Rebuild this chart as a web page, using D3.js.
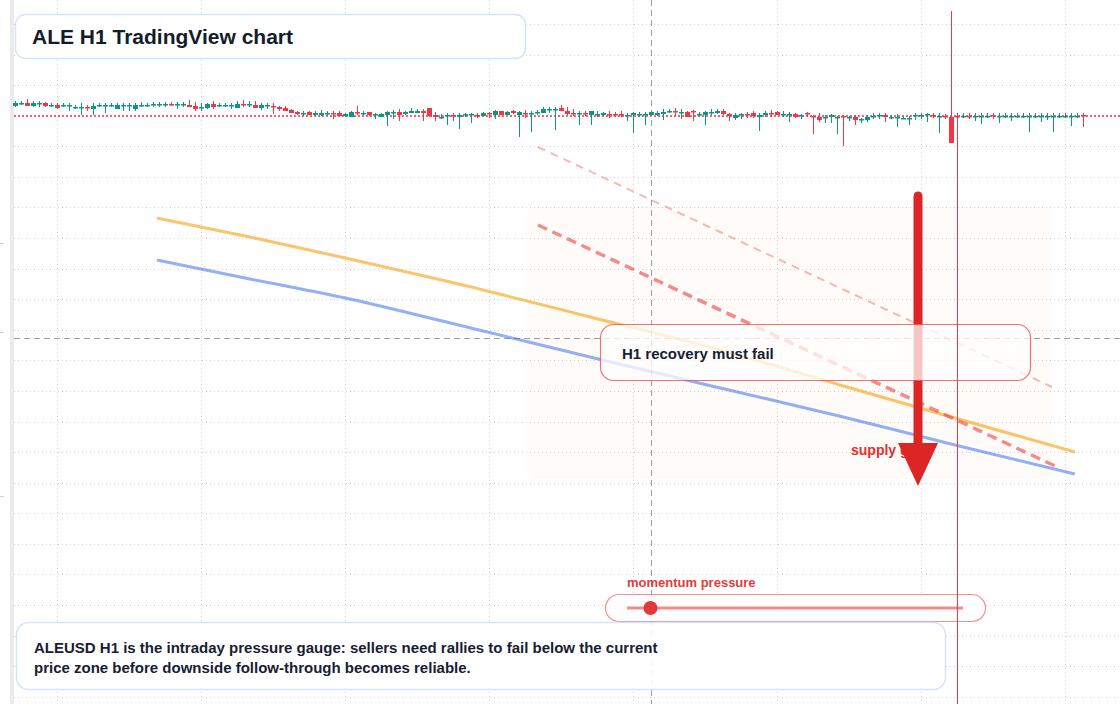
<!DOCTYPE html>
<meta charset="utf-8">
<style>
body { margin: 0; background: #fff; }
svg { display: block; font-family: "Liberation Sans", Arial, sans-serif; }
</style>
<body>
<script src="https://cdnjs.cloudflare.com/ajax/libs/d3/7.8.5/d3.min.js"></script>
<script>
var w = 1120, h = 704;

// ALEUSD hourly candles, [open, high, low, close]
var candles = [
  [1.194,1.199,1.193,1.197],[1.196,1.199,1.195,1.197],[1.197,1.201,1.194,1.194],[1.194,1.199,1.193,1.197],
  [1.196,1.199,1.193,1.197],[1.197,1.198,1.193,1.194],[1.194,1.197,1.193,1.195],[1.195,1.197,1.191,1.192],
  [1.194,1.197,1.193,1.195],[1.194,1.197,1.189,1.195],[1.192,1.195,1.191,1.193],[1.192,1.197,1.185,1.193],
  [1.193,1.195,1.189,1.192],[1.191,1.197,1.185,1.194],[1.194,1.197,1.193,1.195],[1.194,1.197,1.187,1.195],
  [1.194,1.197,1.193,1.195],[1.191,1.197,1.191,1.195],[1.194,1.197,1.189,1.195],[1.194,1.197,1.189,1.195],
  [1.191,1.197,1.189,1.195],[1.194,1.198,1.193,1.195],[1.194,1.197,1.193,1.195],[1.195,1.198,1.193,1.196],
  [1.195,1.198,1.193,1.196],[1.195,1.198,1.193,1.196],[1.196,1.198,1.194,1.195],[1.195,1.198,1.191,1.196],
  [1.195,1.198,1.193,1.196],[1.195,1.200,1.193,1.193],[1.194,1.198,1.189,1.191],[1.192,1.197,1.189,1.193],
  [1.192,1.197,1.191,1.196],[1.196,1.199,1.191,1.193],[1.194,1.197,1.193,1.195],[1.194,1.197,1.193,1.195],
  [1.194,1.197,1.191,1.195],[1.192,1.199,1.192,1.196],[1.196,1.200,1.193,1.195],[1.195,1.199,1.193,1.196],
  [1.195,1.199,1.192,1.192],[1.192,1.197,1.190,1.195],[1.194,1.197,1.191,1.195],[1.194,1.197,1.186,1.193],
  [1.193,1.194,1.189,1.191],[1.192,1.194,1.189,1.189],[1.190,1.191,1.187,1.187],[1.188,1.189,1.185,1.186],
  [1.186,1.189,1.184,1.187],[1.188,1.189,1.185,1.185],[1.185,1.189,1.184,1.187],[1.185,1.190,1.184,1.187],
  [1.186,1.189,1.184,1.187],[1.187,1.189,1.181,1.186],[1.187,1.189,1.184,1.184],[1.184,1.187,1.183,1.186],
  [1.183,1.189,1.183,1.188],[1.188,1.194,1.185,1.187],[1.186,1.189,1.185,1.187],[1.188,1.188,1.184,1.185],
  [1.185,1.187,1.181,1.186],[1.183,1.187,1.183,1.186],[1.185,1.189,1.174,1.188],[1.187,1.190,1.181,1.188],
  [1.188,1.191,1.179,1.185],[1.186,1.189,1.185,1.188],[1.187,1.192,1.187,1.189],[1.187,1.191,1.187,1.189],
  [1.189,1.191,1.179,1.187],[1.192,1.192,1.183,1.184],[1.185,1.188,1.179,1.183],[1.182,1.186,1.181,1.183],
  [1.184,1.187,1.175,1.185],[1.185,1.187,1.179,1.184],[1.183,1.187,1.171,1.185],[1.185,1.187,1.183,1.186],
  [1.185,1.187,1.177,1.186],[1.185,1.187,1.182,1.184],[1.184,1.188,1.184,1.187],[1.187,1.188,1.182,1.186],
  [1.185,1.190,1.181,1.189],[1.189,1.189,1.185,1.185],[1.185,1.189,1.185,1.188],[1.189,1.190,1.186,1.187],
  [1.185,1.189,1.163,1.188],[1.187,1.190,1.182,1.186],[1.186,1.189,1.168,1.187],[1.187,1.190,1.185,1.188],
  [1.187,1.193,1.187,1.191],[1.190,1.193,1.187,1.191],[1.190,1.193,1.170,1.191],[1.192,1.195,1.189,1.189],
  [1.189,1.193,1.185,1.186],[1.187,1.191,1.184,1.186],[1.186,1.189,1.175,1.187],[1.187,1.189,1.184,1.186],
  [1.185,1.189,1.175,1.189],[1.185,1.189,1.183,1.186],[1.185,1.188,1.184,1.187],[1.186,1.189,1.182,1.185],
  [1.186,1.188,1.183,1.185],[1.186,1.189,1.183,1.185],[1.184,1.187,1.179,1.185],[1.185,1.188,1.167,1.187],
  [1.185,1.188,1.183,1.186],[1.185,1.188,1.175,1.186],[1.185,1.189,1.184,1.188],[1.185,1.189,1.184,1.187],
  [1.186,1.191,1.180,1.188],[1.188,1.191,1.187,1.189],[1.189,1.192,1.184,1.188],[1.187,1.191,1.181,1.188],
  [1.188,1.189,1.183,1.183],[1.189,1.190,1.179,1.188],[1.185,1.188,1.184,1.186],[1.185,1.189,1.175,1.188],
  [1.187,1.191,1.185,1.188],[1.187,1.191,1.186,1.189],[1.189,1.191,1.185,1.186],[1.186,1.187,1.179,1.184],
  [1.182,1.187,1.180,1.185],[1.185,1.187,1.181,1.186],[1.186,1.188,1.182,1.185],[1.187,1.189,1.182,1.184],
  [1.183,1.187,1.169,1.185],[1.185,1.189,1.183,1.187],[1.187,1.190,1.183,1.186],[1.188,1.189,1.185,1.185],
  [1.185,1.189,1.183,1.186],[1.185,1.188,1.178,1.186],[1.186,1.187,1.182,1.183],[1.184,1.186,1.181,1.185],
  [1.187,1.188,1.183,1.186],[1.184,1.185,1.166,1.183],[1.183,1.187,1.178,1.180],[1.182,1.185,1.177,1.183],
  [1.183,1.186,1.177,1.185],[1.182,1.184,1.166,1.183],[1.184,1.185,1.154,1.183],[1.182,1.184,1.179,1.183],
  [1.183,1.185,1.175,1.180],[1.180,1.182,1.177,1.181],[1.180,1.185,1.178,1.183],[1.183,1.187,1.181,1.184],
  [1.184,1.187,1.181,1.185],[1.185,1.187,1.178,1.183],[1.182,1.185,1.181,1.183],[1.182,1.186,1.173,1.183],
  [1.181,1.184,1.181,1.182],[1.181,1.184,1.175,1.182],[1.184,1.187,1.180,1.185],[1.184,1.187,1.181,1.185],
  [1.185,1.187,1.178,1.186],[1.185,1.187,1.182,1.184],[1.183,1.187,1.167,1.184],[1.184,1.186,1.181,1.183],
  [1.183,1.289,1.157,1.157],[1.184,1.187,0.590,1.183],[1.183,1.187,1.182,1.184],[1.184,1.187,1.181,1.183],
  [1.183,1.187,1.179,1.184],[1.183,1.187,1.176,1.184],[1.183,1.187,1.182,1.184],[1.185,1.187,1.181,1.184],
  [1.183,1.187,1.177,1.184],[1.183,1.187,1.182,1.184],[1.183,1.187,1.179,1.184],[1.183,1.187,1.182,1.184],
  [1.183,1.187,1.182,1.184],[1.183,1.187,1.168,1.184],[1.183,1.187,1.182,1.184],[1.183,1.187,1.178,1.184],
  [1.183,1.187,1.180,1.184],[1.183,1.187,1.168,1.184],[1.183,1.187,1.182,1.184],[1.183,1.187,1.182,1.184],
  [1.183,1.187,1.174,1.184],[1.183,1.187,1.182,1.184],[1.185,1.187,1.173,1.184]
];

// overlay curves (bar index / price)
var curveIdx  = [23.6, 39.1, 55, 72.5, 95.8, 117.5, 138, 156.6, 176.6];
var orangeVal = [1.082, 1.063, 1.042, 1.018, 0.983, 0.950, 0.914, 0.882, 0.848];
var blueVal   = [1.040, 1.021, 1.002, 0.977, 0.943, 0.912, 0.883, 0.855, 0.826];

// bearish guide lines
var guideIdx   = [87.1, 173.3];
var guideVal   = [1.075, 0.834];
var upperIdx   = [87.1, 172.8];
var upperVal   = [1.153, 0.913];

// supply zone and arrow
var zoneIdx  = [85.3, 172.8];
var zoneVal  = [1.093, 0.821];
var arrowIdx = 150.45;
var arrowVal = [1.104, 0.857, 0.814]; // tail, head base, tip

var crossIdx = 106, crossVal = 0.962;
var dayIdx = [7, 31, 55, 79, 103, 127, 151, 175];
var gridVal = d3.range(23).map(function(k) { return 1.276 - 0.03058 * k; });
var edgeTicks = [1.057, 0.968, 0.804];
var momentum = 0.07;

var title = "ALE H1 TradingView chart";
var callout = "H1 recovery must fail";
var zoneLabel = "supply gate";
var gaugeLabel = "momentum pressure";
var note = ["ALEUSD H1 is the intraday pressure gauge: sellers need rallies to fail below the current",
            "price zone before downside follow-through becomes reliable."];

var up = "#089981", down = "#f23645";

var x = d3.scaleLinear().domain([0, candles.length - 1]).range([15.3, 1083.3]);
var y = d3.scaleLinear().domain([0.596, 1.300]).range([h, 0]);
function crisp(v) { return Math.round(v) + 0.5; }

var svg = d3.select("body").append("svg")
	.attr("width", w)
	.attr("height", h);

svg.append("rect").attr("width", w).attr("height", h).attr("fill", "#fff");
svg.append("rect").attr("x", 10).attr("width", 4).attr("height", h).attr("fill", "#ebebeb");

svg.selectAll(".edge").data(edgeTicks).enter().append("line")
	.attr("x1", 0).attr("x2", 4)
	.attr("y1", function(d) { return crisp(y(d)); }).attr("y2", function(d) { return crisp(y(d)); })
	.attr("stroke", "#d4d4d4");

// grid
var grid = svg.append("g").attr("stroke", "#cfcfcf").attr("stroke-dasharray", "1,3");
grid.selectAll(".hg").data(gridVal).enter().append("line")
	.attr("x1", 14).attr("x2", w)
	.attr("y1", function(d) { return crisp(y(d)); })
	.attr("y2", function(d) { return crisp(y(d)); });
grid.selectAll(".vg").data(dayIdx).enter().append("line")
	.attr("x1", function(d) { return crisp(x(d)); })
	.attr("x2", function(d) { return crisp(x(d)); })
	.attr("y1", 0).attr("y2", h);

// supply zone
svg.append("rect")
	.attr("x", x(zoneIdx[0])).attr("y", y(zoneVal[0]))
	.attr("width", x(zoneIdx[1]) - x(zoneIdx[0]))
	.attr("height", y(zoneVal[1]) - y(zoneVal[0]))
	.attr("rx", 8)
	.attr("fill", "#f97316").attr("fill-opacity", 0.03);

// crosshair
svg.append("line")
	.attr("x1", 14).attr("x2", w)
	.attr("y1", crisp(y(crossVal))).attr("y2", crisp(y(crossVal)))
	.attr("stroke", "#9e9e9e").attr("stroke-dasharray", "6,4");
svg.append("line")
	.attr("x1", crisp(x(crossIdx))).attr("x2", crisp(x(crossIdx)))
	.attr("y1", 0).attr("y2", h)
	.attr("stroke", "#9e9e9e").attr("stroke-dasharray", "6,4");

// curves
var line = d3.line()
	.x(function(d) { return x(d[0]); })
	.y(function(d) { return y(d[1]); })
	.curve(d3.curveMonotoneX);
var straight = d3.line()
	.x(function(d) { return x(d[0]); })
	.y(function(d) { return y(d[1]); });

svg.append("path")
	.datum(d3.zip(curveIdx, orangeVal))
	.attr("d", line)
	.attr("fill", "none").attr("stroke", "#f59e0b").attr("stroke-opacity", 0.6).attr("stroke-width", 3);
svg.append("path")
	.datum(d3.zip(curveIdx, blueVal))
	.attr("d", line)
	.attr("fill", "none").attr("stroke", "#2563eb").attr("stroke-opacity", 0.5).attr("stroke-width", 3);

svg.append("path")
	.datum(d3.zip(upperIdx, upperVal))
	.attr("d", straight)
	.attr("fill", "none").attr("stroke", "#ef4444").attr("stroke-opacity", 0.38)
	.attr("stroke-width", 2).attr("stroke-dasharray", "8,6");
svg.append("path")
	.datum(d3.zip(guideIdx, guideVal))
	.attr("d", straight)
	.attr("fill", "none").attr("stroke", "#ef4444").attr("stroke-opacity", 0.62)
	.attr("stroke-width", 3.5).attr("stroke-dasharray", "10,6");

// zone label sits under the arrow
svg.append("text")
	.attr("x", 851).attr("y", 455)
	.attr("font-size", 14).attr("font-weight", "bold").attr("fill", "#e03131")
	.text(zoneLabel);

var ax = x(arrowIdx);
svg.append("line")
	.attr("x1", ax).attr("x2", ax)
	.attr("y1", y(arrowVal[0])).attr("y2", y(arrowVal[1]) + 4)
	.attr("stroke", "#dc2626").attr("stroke-width", 9).attr("stroke-linecap", "round");
svg.append("path")
	.attr("d", "M" + (ax - 20) + "," + y(arrowVal[1]) + "L" + (ax + 20) + "," + y(arrowVal[1]) +
		"L" + ax + "," + y(arrowVal[2]) + "Z")
	.attr("fill", "#dc2626");

// callout
svg.append("rect")
	.attr("x", 600.5).attr("y", 324.5).attr("width", 430).attr("height", 56).attr("rx", 13)
	.attr("fill", "#fff").attr("fill-opacity", 0.74)
	.attr("stroke", "#e5484d").attr("stroke-opacity", 0.75).attr("stroke-width", 1.2);
svg.append("text")
	.attr("x", 622).attr("y", 359)
	.attr("font-size", 15).attr("font-weight", "bold").attr("fill", "#172033")
	.text(callout);

// momentum gauge
var g = d3.scaleLinear().domain([0, 1]).range([627, 963]);
svg.append("text")
	.attr("x", 627).attr("y", 587)
	.attr("font-size", 13).attr("font-weight", "bold").attr("fill", "#e03c3c")
	.text(gaugeLabel);
svg.append("rect")
	.attr("x", 605.5).attr("y", 594.5).attr("width", 380).attr("height", 27).attr("rx", 13.5)
	.attr("fill", "#fff").attr("fill-opacity", 0.85)
	.attr("stroke", "#ef4444").attr("stroke-opacity", 0.6).attr("stroke-width", 1.2);
svg.append("line")
	.attr("x1", g(0)).attr("x2", g(1)).attr("y1", 608).attr("y2", 608)
	.attr("stroke", "#ef4444").attr("stroke-opacity", 0.62).attr("stroke-width", 3);
svg.append("circle")
	.attr("cx", g(momentum)).attr("cy", 608).attr("r", 7)
	.attr("fill", "#e23838");

// note box
svg.append("rect")
	.attr("x", 16.5).attr("y", 622.5).attr("width", 929).attr("height", 67).attr("rx", 12)
	.attr("fill", "#fff").attr("fill-opacity", 0.9)
	.attr("stroke", "#d6e4f8").attr("stroke-width", 1.5);
svg.selectAll(".note").data(note).enter().append("text")
	.attr("x", 34).attr("y", function(d, i) { return 653 + i * 20; })
	.attr("font-size", 15).attr("font-weight", "bold").attr("fill", "#172033")
	.text(function(d) { return d; });

// title box
svg.append("rect")
	.attr("x", 15.5).attr("y", 14.5).attr("width", 510).attr("height", 44).attr("rx", 10)
	.attr("fill", "#fff").attr("stroke", "#d6e4f8").attr("stroke-width", 1.5);
svg.append("text")
	.attr("x", 32).attr("y", 43.5)
	.attr("font-size", 21).attr("font-weight", "bold").attr("fill", "#131c2c")
	.text(title);

// last price line
var last = candles[candles.length - 1][3];
svg.append("line")
	.attr("x1", 14).attr("x2", w)
	.attr("y1", y(last)).attr("y2", y(last))
	.attr("stroke", down).attr("stroke-width", 1.5).attr("stroke-dasharray", "2,2");

// candles
var bars = svg.append("g").selectAll("g").data(candles).enter().append("g")
	.attr("fill", function(d) { return d[3] >= d[0] ? up : down; })
	.attr("stroke", function(d) { return d[3] >= d[0] ? up : down; });
bars.append("line")
	.attr("x1", function(d, i) { return crisp(x(i)); })
	.attr("x2", function(d, i) { return crisp(x(i)); })
	.attr("y1", function(d) { return y(d[1]); })
	.attr("y2", function(d) { return y(d[2]); })
	.attr("stroke-width", 1);
bars.append("rect")
	.attr("stroke", "none")
	.attr("x", function(d, i) { return Math.round(x(i)) - 2; })
	.attr("width", 5)
	.attr("y", function(d) { return y(Math.max(d[0], d[3])); })
	.attr("height", function(d) { return Math.max(1.5, Math.abs(y(d[0]) - y(d[3]))); });

</script>
</body>
